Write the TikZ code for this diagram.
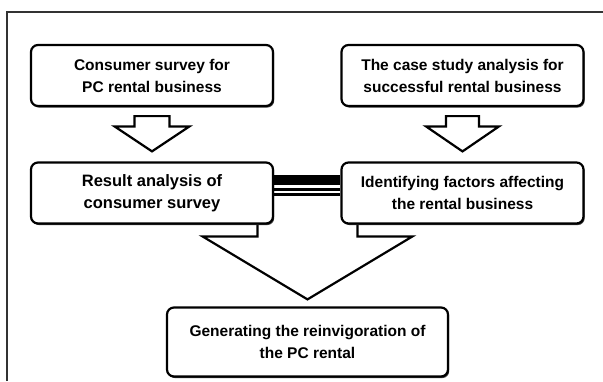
\documentclass[tikz,border=0pt]{standalone}
\usepackage{fontspec}
\setmainfont{Liberation Sans}
\usetikzlibrary{calc,shadows,backgrounds}

\tikzset{
  box/.style={draw, line width=2.2pt, rounded corners=7pt, fill=white, align=center,
    minimum width=242pt, minimum height=61pt, inner sep=2pt,
    font=\fontsize{15.5}{22}\selectfont\bfseries,
    drop shadow={shadow xshift=1.2pt, shadow yshift=-1.6pt, opacity=1, fill=black!75}},
  flow/.style={draw, line width=2.2pt, fill=white, line join=miter},
  stripe/.style={draw, line cap=butt},
}

% block arrow: start, tip, shaft half width, head half width, head length
\newcommand{\flowarrow}[5]{%
  \draw[flow] let \p1=#1, \p2=#2 in
    (\x2-#3,\y1) -- (\x2-#3,\y2+#5) -- (\x2-#4,\y2+#5) -- (\x2,\y2)
    -- (\x2+#4,\y2+#5) -- (\x2+#3,\y2+#5) -- (\x2+#3,\y1) -- cycle;}

\begin{document}
\begin{tikzpicture}[x=1pt,y=-1pt]
  \useasboundingbox (0,0) rectangle (603,381);
  % frame
  \draw[black!80, line width=1.6pt] (7,381) -- (7,12) -- (603,12);

  % boxes
  \node[box] (b1) at (152,75.5) {Consumer survey for\\PC rental business};
  \node[box] (b2) at (462.5,75.5) {The case study analysis for\\successful rental business};
  \node[box, font=\fontsize{16.5}{22}\selectfont\bfseries] (b3) at (152,193) {Result analysis of\\consumer survey};
  \node[box] (b4) at (462.5,193) {Identifying factors affecting\\the rental business};
  \node[box, minimum width=281pt, minimum height=69pt] (b5) at (307.5,342) {Generating the reinvigoration of\\the PC rental};

  % arrows between the rows
  \flowarrow{($(b1.south)+(0,9)$)}{($(b3.north)+(0,-10)$)}{17.5pt}{37.5pt}{25pt}
  \flowarrow{($(b2.south)+(0,9)$)}{($(b4.north)+(0,-10)$)}{16.5pt}{36.5pt}{25pt}

  % big arrow, its shaft runs under both boxes
  \begin{scope}[on background layer]
    \draw[flow] let \p1=($(b3.south)!0.5!(b4.south)$), \p2=($(b5.north)+(0,-7)$) in
      (\x2-50pt,\y1) -- (\x2-50pt,\y2+63pt) -- (\x2-105pt,\y2+63pt) -- (\x2,\y2)
      -- (\x2+105pt,\y2+63pt) -- (\x2+50pt,\y2+63pt) -- (\x2+50pt,\y1);
  \end{scope}

  % link between the two middle boxes
  \foreach \dy/\w in {-16/5, -10.5/5, -4/3, 1/3} {
    \draw[stripe, line width=\w pt] ($(b3.east)+(0,\dy)$) -- ($(b4.west)+(0,\dy)$);
  }
\end{tikzpicture}
\end{document}
